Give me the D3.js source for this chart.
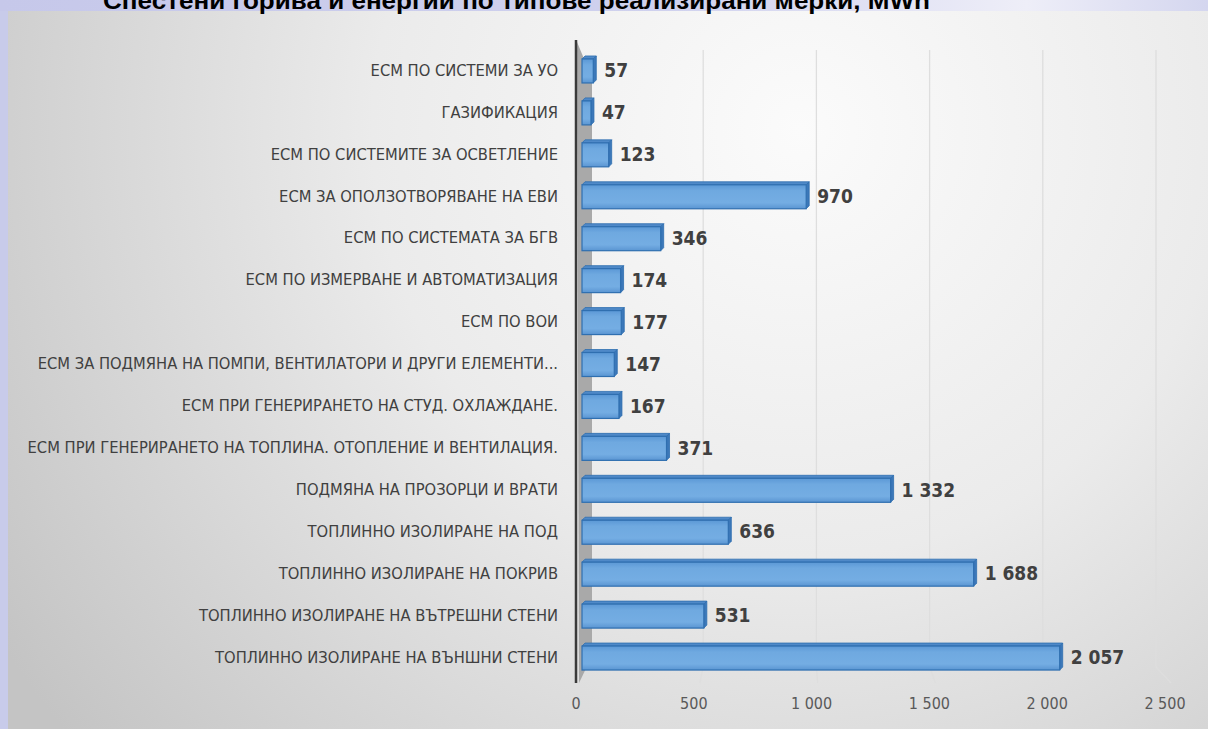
<!DOCTYPE html>
<html><head><meta charset="utf-8">
<script src="https://cdn.jsdelivr.net/npm/d3@7"></script>
<style>html,body{margin:0;padding:0;overflow:hidden;background:#fff}</style>
</head><body>
<svg id="c" width="1208" height="729"></svg>
<script>
const title = "Спестени горива и енергии по типове реализирани мерки, MWh";
const categories = [
  "ЕСМ ПО СИСТЕМИ ЗА УО",
  "ГАЗИФИКАЦИЯ",
  "ЕСМ ПО СИСТЕМИТЕ ЗА ОСВЕТЛЕНИЕ",
  "ЕСМ ЗА ОПОЛЗОТВОРЯВАНЕ НА ЕВИ",
  "ЕСМ ПО СИСТЕМАТА ЗА БГВ",
  "ЕСМ ПО ИЗМЕРВАНЕ И АВТОМАТИЗАЦИЯ",
  "ЕСМ ПО ВОИ",
  "ЕСМ ЗА ПОДМЯНА НА ПОМПИ, ВЕНТИЛАТОРИ И ДРУГИ ЕЛЕМЕНТИ...",
  "ЕСМ ПРИ ГЕНЕРИРАНЕТО НА СТУД. ОХЛАЖДАНЕ.",
  "ЕСМ ПРИ ГЕНЕРИРАНЕТО НА ТОПЛИНА. ОТОПЛЕНИЕ И ВЕНТИЛАЦИЯ.",
  "ПОДМЯНА НА ПРОЗОРЦИ И ВРАТИ",
  "ТОПЛИННО ИЗОЛИРАНЕ НА ПОД",
  "ТОПЛИННО ИЗОЛИРАНЕ НА ПОКРИВ",
  "ТОПЛИННО ИЗОЛИРАНЕ НА ВЪТРЕШНИ СТЕНИ",
  "ТОПЛИННО ИЗОЛИРАНЕ НА ВЪНШНИ СТЕНИ"
];
const values = [57, 47, 123, 970, 346, 174, 177, 147, 167, 371, 1332, 636, 1688, 531, 2057];
const ticks = [0, 500, 1000, 1500, 2000, 2500];

const svg = d3.select("#c");
const defs = svg.append("defs");
const fmt = v => d3.format(",")(v).replace(/,/g, " ");

// backgrounds
const tg = defs.append("linearGradient").attr("id","topband").attr("x1","0").attr("x2","1");
tg.append("stop").attr("offset","0").attr("stop-color","#c6c8ea");
tg.append("stop").attr("offset","0.55").attr("stop-color","#cfd1ee");
tg.append("stop").attr("offset","0.85").attr("stop-color","#eeeef8");
tg.append("stop").attr("offset","1").attr("stop-color","#d4d6ef");
svg.append("rect").attr("x",0).attr("y",0).attr("width",1208).attr("height",729).attr("fill","#c8cbea");
svg.append("rect").attr("x",0).attr("y",0).attr("width",1208).attr("height",11).attr("fill","url(#topband)");

const pg = defs.append("radialGradient").attr("id","panel")
  .attr("gradientUnits","userSpaceOnUse").attr("cx",800).attr("cy",130).attr("r",950);
pg.append("stop").attr("offset","0").attr("stop-color","#fbfbfb");
pg.append("stop").attr("offset","0.45").attr("stop-color","#ebebeb");
pg.append("stop").attr("offset","1").attr("stop-color","#c4c4c4");
svg.append("rect").attr("x",8).attr("y",11).attr("width",1200).attr("height",718).attr("fill","url(#panel)");

// title (clipped at the top as in the reference)
svg.append("text").attr("x",103).attr("y",9)
  .attr("font-family","Liberation Sans, Arial, sans-serif").attr("font-weight","bold")
  .attr("font-size",24).attr("fill","#000")
  .attr("textLength",827).attr("lengthAdjust","spacingAndGlyphs")
  .text(title);

// scales
const x = d3.scaleLinear().domain([0,2500]).range([580,1163]);
const xBack = d3.scaleLinear().domain([0,2500]).range([590,1156]);
const xLab = d3.scaleLinear().domain([0,2500]).range([576,1165]);
const y = d3.scalePoint().domain(categories).range([49,678]).padding(0.5);

// gridlines (back wall + floor)
svg.append("g").selectAll("path").data(ticks.slice(1)).join("path")
  .attr("d", t => `M${xBack(t)},50 L${xBack(t)},667 L${xLab(t)+6},683`)
  .attr("fill","none").attr("stroke","#dedede").attr("stroke-width",1.3);

// left wall
svg.append("path").attr("d","M577,42 L592,78 L592,656 L579,683 Z").attr("fill","#a9a9a9");
svg.append("line").attr("x1",576).attr("x2",576).attr("y1",40).attr("y2",683)
  .attr("stroke","#3a3a3a").attr("stroke-width",2.5);

// x tick labels
svg.append("g").selectAll("text").data(ticks).join("text")
  .attr("x", t => xLab(t)).attr("y", 709).attr("text-anchor","middle")
  .attr("font-family","Liberation Sans Narrow, DejaVu Sans Condensed, Arial, sans-serif")
  .attr("font-size",16).attr("fill","#595959")
  .text(t => fmt(t));

// category labels
const cl = svg.append("g").selectAll("text").data(categories).join("text")
  .attr("x",558).attr("y", d => y(d)).attr("dy","0.35em").attr("text-anchor","end")
  .attr("font-family","Liberation Sans Narrow, DejaVu Sans Condensed, Arial, sans-serif")
  .attr("font-size",15).attr("fill","#404040")
  .text(d => d);
// fit font to the width of the reference's longest label
let maxW = 0; cl.each(function(){ maxW = Math.max(maxW, this.getComputedTextLength()); });
if (maxW > 0) cl.attr("font-size", 15 * 531 / maxW);

// bars
const fg = defs.append("linearGradient").attr("id","front").attr("x1","0").attr("x2","0").attr("y1","0").attr("y2","1");
fg.append("stop").attr("offset","0").attr("stop-color","#5b98d6");
fg.append("stop").attr("offset","0.25").attr("stop-color","#6fa9e0");
fg.append("stop").attr("offset","0.75").attr("stop-color","#74ade3");
fg.append("stop").attr("offset","1").attr("stop-color","#5a95d2");
const data = categories.map((c,i)=>({c, v: values[i]}));
const d3o = 3; // 3D depth offset
const bars = svg.append("g").selectAll("g").data(data).join("g");
bars.append("path") // top face
  .attr("d", d => { const x0=x(0)+2, x1=x(d.v), t=y(d.c)-11;
    return `M${x0},${t} L${x0+d3o},${t-d3o} L${x1+d3o},${t-d3o} L${x1},${t} Z`; })
  .attr("fill","#4f89c8").attr("stroke","#2f6fb0").attr("stroke-width",0.8);
bars.append("path") // right face
  .attr("d", d => { const x1=x(d.v), t=y(d.c)-11, b=y(d.c)+13;
    return `M${x1},${t} L${x1+d3o},${t-d3o} L${x1+d3o},${b-d3o} L${x1},${b} Z`; })
  .attr("fill","#3c78b9").attr("stroke","#2f6fb0").attr("stroke-width",0.8);
bars.append("rect") // front face
  .attr("x", x(0)+2).attr("y", d => y(d.c)-11)
  .attr("width", d => x(d.v)-x(0)-2).attr("height",24)
  .attr("fill","url(#front)").attr("stroke","#2f6fb0").attr("stroke-width",1.2);

// value labels
svg.append("g").selectAll("text").data(data).join("text")
  .attr("x", d => x(d.v) + 11).attr("y", d => y(d.c)).attr("dy","0.38em")
  .attr("font-family","Liberation Sans Narrow, DejaVu Sans Condensed, Arial, sans-serif")
  .attr("font-weight","bold").attr("font-size",19).attr("fill","#404040")
  .text(d => fmt(d.v));
</script>
</body></html>
